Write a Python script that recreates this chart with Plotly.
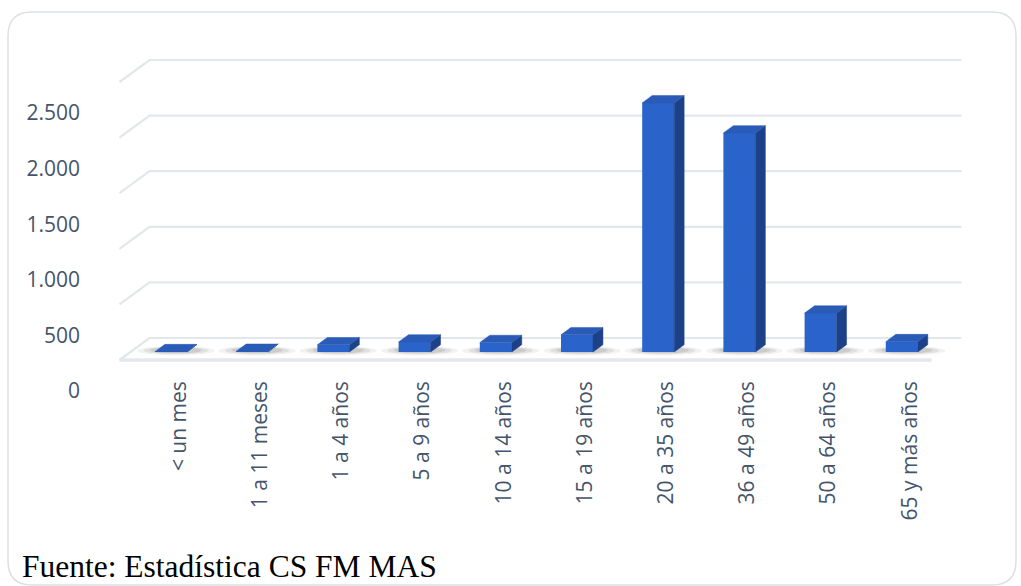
import plotly.graph_objects as go

# ---------------- data ----------------
categories = ["< un mes", "1 a 11 meses", "1 a 4 años", "5 a 9 años", "10 a 14 años",
              "15 a 19 años", "20 a 35 años", "36 a 49 años", "50 a 64 años", "65 y más años"]
values = [3, 6, 65, 90, 85, 155, 2240, 1970, 350, 93]
tick_values = [0, 500, 1000, 1500, 2000, 2500]
tick_labels = ["0", "500", "1.000", "1.500", "2.000", "2.500"]
source_note = "Fuente: Estadística CS FM MAS"

# ---------------- layout geometry (pixels) ----------------
W, H = 1021, 586
PLOT_L, PLOT_R, PLOT_T, PLOT_B = 112, 975, 30, 372
X0_PX, PX_PER_CAT = 171.0, 81.2      # first category centre, spacing
Y0_PX, PX_PER_UNIT = 352.0, 0.1112   # value 0 on bar plane, scale

xr = [(PLOT_L - X0_PX) / PX_PER_CAT, (PLOT_R - X0_PX) / PX_PER_CAT]
yr = [(Y0_PX - PLOT_B) / PX_PER_UNIT, (Y0_PX - PLOT_T) / PX_PER_UNIT]

DEPTH_RATIO = 30 / 22  # horizontal px per vertical px of depth


def depth(px_up):
    return px_up * DEPTH_RATIO / PX_PER_CAT, px_up / PX_PER_UNIT


dxb, dyb = depth(14)     # back wall offset from bar plane
dxf, dyf = depth(-8)     # front floor edge offset from bar plane
bdx, bdy = depth(7.3)    # bar depth
BAR_W = 0.394
n = len(categories)
x_left, x_right = -0.5, n - 0.5

FRONT = "#2A63C9"
SIDE = "#1D4189"
TOP = "#2A5BB6"
GRID = "#E3E6EA"
TEXT = "#44546A"

shapes = []

# floor front edge
shapes.append(dict(type="line", xref="x", yref="y", x0=x_left + dxf, x1=x_right + dxf,
                   y0=dyf, y1=dyf, line=dict(color="#E4E7EB", width=3.5), layer="below"))

# gridlines (side wall diagonal + back wall)
for v in tick_values:
    p = (f"M {x_left+dxf},{v+dyf} L {x_left+dxb},{v+dyb} L {x_right+dxb},{v+dyb}")
    shapes.append(dict(type="path", xref="x", yref="y", path=p,
                       line=dict(color=GRID, width=2.2), layer="below"))

# soft shadows on floor
for i, v in enumerate(values):
    for k, (ex, ey, op) in enumerate([(0.22, 30, 0.05), (0.14, 20, 0.07), (0.06, 12, 0.09)]):
        shapes.append(dict(type="circle", xref="x", yref="y",
                           x0=i - BAR_W / 2 - ex, x1=i + BAR_W / 2 + bdx + ex,
                           y0=-ey, y1=bdy * 0.6 + ey * 0.4,
                           fillcolor=f"rgba(0,0,0,{op})", line=dict(width=0), layer="below"))

# card border (paper coordinates)
pw, ph = PLOT_R - PLOT_L, PLOT_B - PLOT_T


def px2paper(px, py):
    return (px - PLOT_L) / pw, (PLOT_B - py) / ph


cl, ct, cr, cb, rad = 8, 12, 1016, 585, 24
pts = {
    "a": px2paper(cl, ct + rad), "b": px2paper(cl, ct), "c": px2paper(cl + rad, ct),
    "d": px2paper(cr - rad, ct), "e": px2paper(cr, ct), "f": px2paper(cr, ct + rad),
    "g": px2paper(cr, cb - rad), "h": px2paper(cr, cb), "i": px2paper(cr - rad, cb),
    "j": px2paper(cl + rad, cb), "k": px2paper(cl, cb), "l": px2paper(cl, cb - rad),
}
P = lambda k: f"{pts[k][0]},{pts[k][1]}"
card = (f"M {P('a')} Q {P('b')} {P('c')} L {P('d')} Q {P('e')} {P('f')} "
        f"L {P('g')} Q {P('h')} {P('i')} L {P('j')} Q {P('k')} {P('l')} Z")
shapes.append(dict(type="path", xref="paper", yref="paper", path=card,
                   line=dict(color="#DCE0E5", width=1.5), fillcolor="rgba(0,0,0,0)",
                   layer="below"))

# ---------------- traces ----------------
fig = go.Figure()
fig.add_trace(go.Bar(x=list(range(n)), y=values, width=BAR_W,
                     marker=dict(color=FRONT, line=dict(width=0)),
                     hovertext=categories, showlegend=False))

side_x, side_y, top_x, top_y = [], [], [], []
for i, v in enumerate(values):
    xl, xrr = i - BAR_W / 2, i + BAR_W / 2
    side_x += [xrr, xrr + bdx, xrr + bdx, xrr, xrr, None]
    side_y += [0, bdy, v + bdy, v, 0, None]
    top_x += [xl, xrr, xrr + bdx, xl + bdx, xl, None]
    top_y += [v, v, v + bdy, v + bdy, v, None]

fig.add_trace(go.Scatter(x=side_x, y=side_y, mode="lines", fill="toself",
                         fillcolor=SIDE, line=dict(color=SIDE, width=0.5),
                         hoverinfo="skip", showlegend=False))
fig.add_trace(go.Scatter(x=top_x, y=top_y, mode="lines", fill="toself",
                         fillcolor=TOP, line=dict(color=TOP, width=0.5),
                         hoverinfo="skip", showlegend=False))

sx, sy = px2paper(20, 566)
fig.update_layout(
    width=W, height=H,
    margin=dict(l=PLOT_L, r=W - PLOT_R, t=PLOT_T, b=H - PLOT_B, pad=0),
    paper_bgcolor="white", plot_bgcolor="white",
    shapes=shapes,
    annotations=[dict(text=source_note, xref="paper", yref="paper", x=sx, y=sy,
                      xanchor="left", yanchor="middle", showarrow=False,
                      font=dict(family="Liberation Serif", size=31.5, color="black"))],
    xaxis=dict(range=xr, tickmode="array", tickvals=list(range(n)), ticktext=categories,
               tickangle=-90, showgrid=False, zeroline=False, showline=False, ticks="",
               tickfont=dict(family="Open Sans", size=21, color=TEXT),
               ticklabelshift=8, ticklabelstandoff=4, fixedrange=True),
    yaxis=dict(range=yr, tickmode="array", tickvals=tick_values, ticktext=tick_labels,
               showgrid=False, zeroline=False, showline=False, ticks="",
               tickfont=dict(family="Open Sans", size=21, color=TEXT),
               ticklabelshift=39, ticklabelstandoff=31, fixedrange=True),
    bargap=0.6,
)

fig.write_html("out.html")
